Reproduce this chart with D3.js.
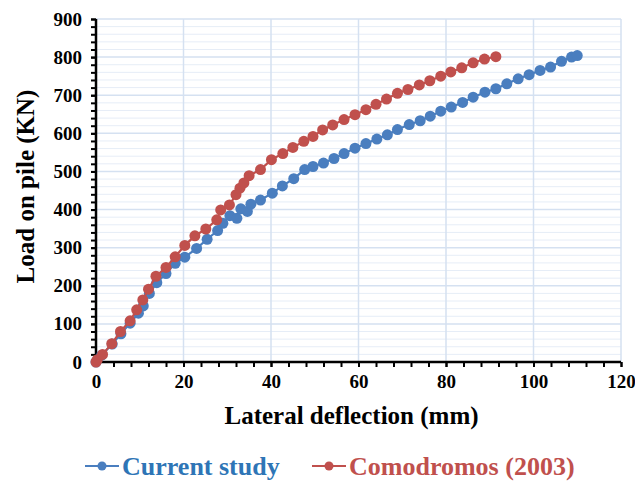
<!DOCTYPE html>
<html>
<head>
<meta charset="utf-8">
<script src="https://cdn.jsdelivr.net/npm/d3@7"></script>
<style>
  body { margin: 0; background: #fff; }
  .tick text { font-family: "Liberation Serif", "Times New Roman", serif; font-weight: bold; font-size: 19px; fill: #000; }
</style>
</head>
<body>
<div id="chart"></div>
<script>
// deflection (mm) and load (kN)
const currentX = [0, 1.3, 3.7, 5.7, 7.8, 9.7, 10.8, 12.2, 13.9, 16.0, 18.1, 20.3, 23.0, 25.4, 27.8, 29.0, 30.6, 32.2, 33.1, 34.6, 35.4, 37.6, 40.3, 42.6, 45.2, 47.7, 49.6, 52.0, 54.4, 56.7, 59.2, 61.7, 64.2, 66.6, 68.9, 71.6, 74.1, 76.4, 78.8, 81.2, 83.8, 86.2, 88.9, 91.4, 93.9, 96.5, 99.0, 101.5, 103.9, 106.4, 108.7, 110.0];
const currentY = [0, 18, 47, 74, 102, 128, 147, 180, 208, 232, 259, 275, 298, 322, 345, 364, 384, 377, 402, 395, 414, 425, 443, 462, 481, 505, 513, 522, 534, 547, 561, 573, 585, 596, 610, 623, 633, 645, 658, 669, 681, 695, 708, 717, 730, 743, 754, 765, 774, 789, 800, 804];

const comoX = [0, 0.3, 1.5, 3.6, 5.6, 7.8, 9.3, 10.7, 12.0, 13.7, 16.0, 18.1, 20.3, 22.6, 25.1, 27.6, 28.5, 30.5, 32.0, 32.9, 33.8, 35.0, 37.6, 40.1, 42.7, 45.0, 47.5, 49.6, 51.8, 54.1, 56.7, 59.2, 61.7, 64.0, 66.4, 68.9, 71.3, 73.9, 76.3, 78.8, 81.1, 83.6, 86.2, 88.8, 91.4];
const comoY = [0, 6, 20, 48, 80, 108, 137, 163, 191, 225, 248, 276, 306, 331, 349, 373, 399, 412, 439, 456, 470, 489, 505, 531, 547, 563, 579, 592, 609, 622, 636, 649, 662, 676, 690, 705, 715, 727, 738, 750, 761, 772, 785, 795, 801];

const xTicks = [0, 20, 40, 60, 80, 100, 120];
const yTicks = [0, 100, 200, 300, 400, 500, 600, 700, 800, 900];

const seriesNames = ["Current study", "Comodromos (2003)"];
const seriesColors = ["#4a7ebf", "#c0504d"];
const legendText = ["#2e75b6", "#c0504d"];

const margin = {top: 19, right: 14, bottom: 123, left: 96},
    width = 635 - margin.left - margin.right,
    height = 485 - margin.top - margin.bottom;

const x = d3.scaleLinear().domain([0, 120]).range([0, width]);
const y = d3.scaleLinear().domain([0, 900]).range([height, 0]);

const svg = d3.select("#chart").append("svg")
    .attr("width", 635)
    .attr("height", 485)
    .append("g")
    .attr("transform", "translate(" + margin.left + "," + margin.top + ")");

// minor horizontal grid every 20
svg.append("g")
    .selectAll("line")
    .data(d3.range(20, 900, 20).filter(function(v) { return v % 100 !== 0; }))
    .join("line")
    .attr("x1", 0).attr("x2", width)
    .attr("y1", function(d) { return y(d); }).attr("y2", function(d) { return y(d); })
    .attr("stroke", "#e6edf7").attr("stroke-width", 1);

// major grid
svg.append("g")
    .selectAll("line")
    .data(yTicks.slice(1))
    .join("line")
    .attr("x1", 0).attr("x2", width)
    .attr("y1", function(d) { return y(d); }).attr("y2", function(d) { return y(d); })
    .attr("stroke", "#d5e1f1").attr("stroke-width", 1.5);

svg.append("g")
    .selectAll("line")
    .data(xTicks.slice(1))
    .join("line")
    .attr("y1", 0).attr("y2", height)
    .attr("x1", function(d) { return x(d); }).attr("x2", function(d) { return x(d); })
    .attr("stroke", "#d5e1f1").attr("stroke-width", 1.5);

// axes: minor ticks then labelled major ticks
svg.append("g")
    .attr("transform", "translate(0," + height + ")")
    .call(d3.axisBottom(x).tickValues(d3.range(0, 121, 4)).tickSize(5).tickFormat(""))
    .call(function(g) { g.select(".domain").remove(); })
    .selectAll("line").attr("stroke", "#000").attr("stroke-width", 2);

svg.append("g")
    .attr("transform", "translate(0," + height + ")")
    .call(d3.axisBottom(x).tickValues(xTicks).tickSize(5).tickPadding(8))
    .call(function(g) {
        g.select(".domain").attr("stroke", "#000").attr("stroke-width", 2.5).attr("d", "M0,0H" + width);
        g.selectAll("line").attr("stroke", "#000").attr("stroke-width", 2);
    });

svg.append("g")
    .call(d3.axisLeft(y).tickValues(d3.range(0, 901, 20)).tickSize(5).tickFormat(""))
    .call(function(g) { g.select(".domain").remove(); })
    .selectAll("line").attr("stroke", "#000").attr("stroke-width", 2);

svg.append("g")
    .call(d3.axisLeft(y).tickValues(yTicks).tickSize(5).tickPadding(9))
    .call(function(g) {
        g.select(".domain").attr("stroke", "#000").attr("stroke-width", 2.5).attr("d", "M0,0V" + height);
        g.selectAll("line").attr("stroke", "#000").attr("stroke-width", 2);
    });

// series
const allSeries = [
    currentX.map(function(v, i) { return {x: v, y: currentY[i]}; }),
    comoX.map(function(v, i) { return {x: v, y: comoY[i]}; })
];

const line = d3.line()
    .x(function(d) { return x(d.x); })
    .y(function(d) { return y(d.y); });

allSeries.forEach(function(data, i) {
    svg.append("path")
        .attr("d", line(data))
        .attr("fill", "none")
        .attr("stroke", seriesColors[i])
        .attr("stroke-width", 2.2);
    svg.append("g")
        .selectAll("circle")
        .data(data)
        .join("circle")
        .attr("cx", function(d) { return x(d.x); })
        .attr("cy", function(d) { return y(d.y); })
        .attr("r", 5.5)
        .attr("fill", seriesColors[i]);
});

// axis titles
svg.append("text")
    .attr("x", width / 2 - 7)
    .attr("y", height + 62)
    .style("text-anchor", "middle")
    .style("font-family", "'Liberation Serif', serif")
    .style("font-weight", "bold")
    .style("font-size", "25px")
    .text("Lateral deflection (mm)");

svg.append("text")
    .attr("transform", "rotate(-90)")
    .attr("x", -height / 2 + 4)
    .attr("y", -62)
    .style("text-anchor", "middle")
    .style("font-family", "'Liberation Serif', serif")
    .style("font-weight", "bold")
    .style("font-size", "25px")
    .text("Load on pile (KN)");

// legend
const legendX = [85, 312];
const legend = svg.append("g")
    .attr("transform", "translate(" + (-margin.left) + "," + (466 - margin.top) + ")");

seriesNames.forEach(function(name, i) {
    const g = legend.append("g").attr("transform", "translate(" + legendX[i] + ",0)");
    g.append("line")
        .attr("x1", 0).attr("x2", 34)
        .attr("stroke", seriesColors[i]).attr("stroke-width", 2.2);
    g.append("circle")
        .attr("cx", 17).attr("r", 4.5)
        .attr("fill", seriesColors[i]);
    g.append("text")
        .attr("x", 37)
        .attr("dy", "0.35em")
        .style("font-family", "'Liberation Serif', serif")
        .style("font-weight", "bold")
        .style("font-size", "26px")
        .style("fill", legendText[i])
        .text(name);
});
</script>
</body>
</html>
